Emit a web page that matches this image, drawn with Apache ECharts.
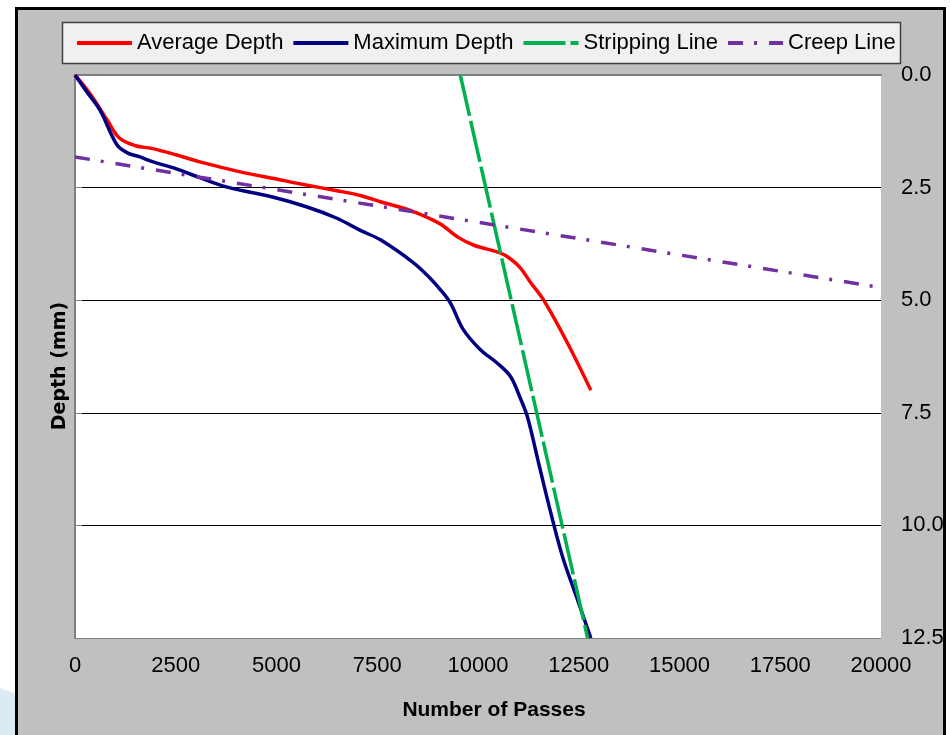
<!DOCTYPE html>
<html>
<head>
<meta charset="utf-8">
<title>Depth vs Number of Passes</title>
<script src="https://cdn.jsdelivr.net/npm/echarts@6/dist/echarts.min.js"></script>
<style>
  html, body { margin: 0; padding: 0; background: #fff; }
  #chart { width: 950px; height: 735px; }
</style>
</head>
<body>
<div id="chart"></div>
<script>
// values
const avgPasses = [0, 400, 800, 1100, 1500, 1900, 2500, 3100, 4100, 5000, 5600, 6500, 7100, 7600, 8300, 9050, 9500, 9900, 10550, 10800, 11050, 11300, 11630, 12220, 12800];
const avgDepth = [0, 0.45, 1.0, 1.4, 1.57, 1.63, 1.77, 1.93, 2.15, 2.31, 2.42, 2.57, 2.68, 2.82, 3.0, 3.3, 3.6, 3.78, 3.95, 4.08, 4.28, 4.6, 5.0, 5.95, 7.0];

const maxPasses = [0, 300, 620, 1040, 1300, 1615, 1940, 2500, 3100, 3780, 4900, 5760, 6500, 7080, 7580, 8400, 8800, 9070, 9320, 9640, 10060, 10480, 10810, 11060, 11230, 11500, 11800, 12100, 12450, 12800];
const maxDepth = [0, 0.38, 0.78, 1.55, 1.73, 1.82, 1.93, 2.08, 2.28, 2.49, 2.71, 2.93, 3.18, 3.45, 3.66, 4.17, 4.5, 4.77, 5.07, 5.66, 6.1, 6.4, 6.7, 7.2, 7.6, 8.6, 9.7, 10.7, 11.6, 12.5];

const stripPasses = [9560, 12720];
const stripDepth = [0, 12.5];

const creepPasses = [0, 20000];
const creepDepth = [1.82, 4.72];

const seriesNames = ['Average Depth', 'Maximum Depth', 'Stripping Line', 'Creep Line'];
const passTicks = [0, 20000, 2500];
const depthTicks = [0, 12.5, 2.5];

const FONT = '"Liberation Sans", Arial, sans-serif';

/**
 * @description - zip two arrays into [x, y] pairs
 */
function pairs(xs, ys) {
  return xs.map((x, i) => [x, ys[i]]);
}

const chart = echarts.init(document.getElementById('chart'), null, { renderer: 'canvas' });

chart.setOption({
  animation: false,
  backgroundColor: '#fff',
  textStyle: { fontFamily: FONT },
  graphic: [
    {
      type: 'polygon',
      z: -20,
      shape: { points: [[0, 688], [16, 694], [16, 735], [0, 735]] },
      style: { fill: '#dcebf3' }
    },
    {
      type: 'rect',
      z: -10,
      shape: { x: 16.5, y: 8.5, width: 928, height: 740 },
      style: { fill: '#c0c0c0', stroke: '#000', lineWidth: 3 }
    },
    {
      type: 'rect',
      z: -5,
      shape: { x: 62.5, y: 22.5, width: 838, height: 41 },
      style: { fill: '#f0f0f0', stroke: '#404040', lineWidth: 1.5 }
    },
    {
      type: 'text',
      x: 60,
      y: 366,
      rotation: Math.PI / 2,
      style: {
        text: 'Depth (mm)',
        font: 'bold 19px "DejaVu Sans", sans-serif',
        fill: '#000',
        align: 'center',
        verticalAlign: 'middle'
      }
    }
  ],
  legend: {
    data: seriesNames,
    left: 75,
    top: 32,
    padding: 0,
    itemWidth: 55,
    itemHeight: 20,
    itemGap: 8,
    itemStyle: { opacity: 0 },
    lineStyle: { width: 4 },
    textStyle: { fontSize: 22, color: '#000', fontFamily: FONT }
  },
  grid: {
    left: 75,
    right: 69,
    top: 75,
    bottom: 97,
    show: true,
    backgroundColor: '#fff',
    borderWidth: 0
  },
  xAxis: {
    type: 'value',
    min: passTicks[0],
    max: passTicks[1],
    interval: passTicks[2],
    name: 'Number of Passes',
    nameLocation: 'middle',
    nameGap: 62,
    nameTextStyle: {
      fontWeight: 'bold',
      fontSize: 21,
      color: '#000',
      fontFamily: FONT,
      padding: [0, 0, 0, 32]
    },
    axisLine: { show: true, lineStyle: { color: '#808080', width: 2 } },
    axisTick: { show: false },
    splitLine: { show: false },
    axisLabel: {
      formatter: (v) => String(v),
      fontSize: 22,
      color: '#000',
      margin: 17,
      fontFamily: FONT
    }
  },
  yAxis: {
    type: 'value',
    position: 'right',
    inverse: true,
    min: depthTicks[0],
    max: depthTicks[1],
    interval: depthTicks[2],
    axisLine: { show: true, lineStyle: { color: '#808080', width: 2 } },
    axisTick: { show: true, length: 7, lineStyle: { color: '#808080' } },
    axisLabel: {
      formatter: (v) => v.toFixed(1),
      align: 'left',
      margin: 20,
      fontSize: 22,
      color: '#000',
      fontFamily: FONT
    },
    splitLine: {
      show: true,
      lineStyle: {
        color: ['rgba(0,0,0,0)', '#000', '#000', '#000', '#000', '#808080'],
        width: 1
      }
    }
  },
  series: [
    {
      name: seriesNames[0],
      type: 'line',
      data: pairs(avgPasses, avgDepth),
      smooth: 0.35,
      symbol: 'none',
      lineStyle: { color: '#ff0000', width: 3.5 },
      itemStyle: { color: '#ff0000' }
    },
    {
      name: seriesNames[1],
      type: 'line',
      data: pairs(maxPasses, maxDepth),
      smooth: 0.35,
      symbol: 'none',
      lineStyle: { color: '#000080', width: 3.5 },
      itemStyle: { color: '#000080' }
    },
    {
      name: seriesNames[2],
      type: 'line',
      data: pairs(stripPasses, stripDepth),
      symbol: 'none',
      lineStyle: { color: '#00b050', width: 3.5, type: [42, 5] },
      itemStyle: { color: '#00b050' }
    },
    {
      name: seriesNames[3],
      type: 'line',
      data: pairs(creepPasses, creepDepth),
      symbol: 'none',
      lineStyle: { color: '#7030a0', width: 3.5, type: [15, 11, 3, 12] },
      itemStyle: { color: '#7030a0' }
    }
  ]
});
</script>
</body>
</html>
